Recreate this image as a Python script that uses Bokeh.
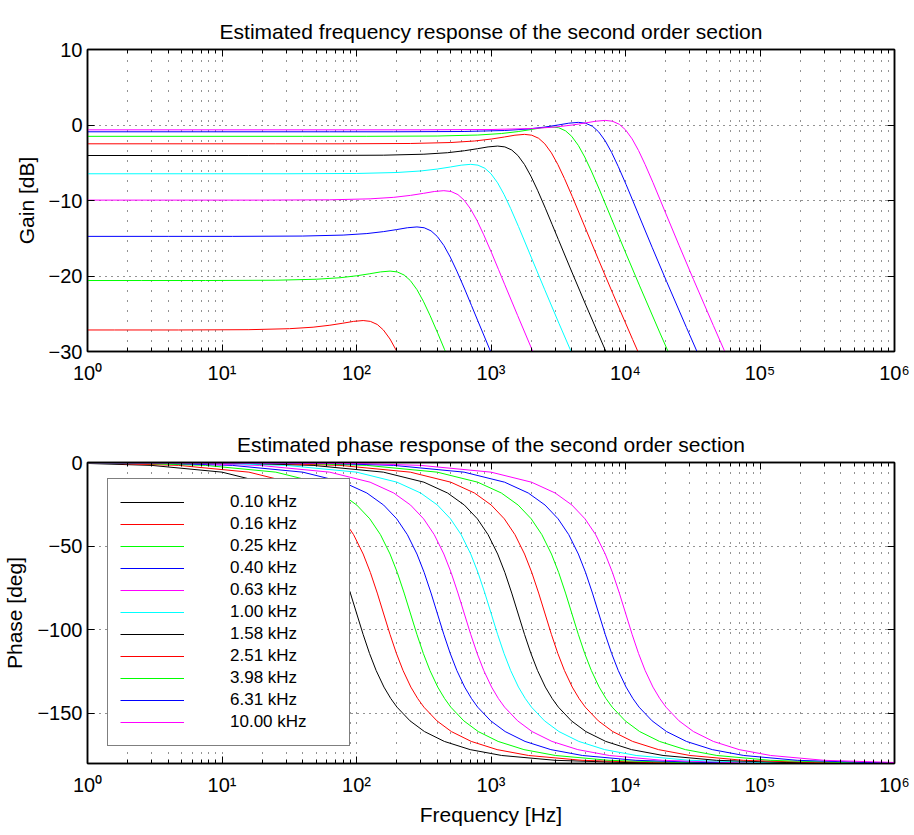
from bokeh.plotting import figure
from bokeh.models import Range1d, FixedTicker, LinearAxis, LogAxis, Legend, LegendItem
from bokeh.layouts import column
from bokeh.embed import file_html
from bokeh.resources import INLINE

# ---------------- data ----------------
labels = ["0.10 kHz", "0.16 kHz", "0.25 kHz", "0.40 kHz", "0.63 kHz", "1.00 kHz",
          "1.58 kHz", "2.51 kHz", "3.98 kHz", "6.31 kHz", "10.00 kHz"]
colors = ["#000000", "#ff0000", "#00ff00", "#0000ff", "#ff00ff", "#00ffff",
          "#000000", "#ff0000", "#00ff00", "#0000ff", "#ff00ff"]

freq_010 = [1, 3, 10, 20, 30, 40, 50, 60, 70.7, 80, 90, 100, 112, 125, 140, 160, 180, 200, 250, 320, 450, 700, 1200, 3000, 10000, 1000000]
gain_010 = [-34.3, -34.3, -34.26, -34.13, -33.93, -33.67, -33.4, -33.16, -33.05, -33.16, -33.57, -34.3, -35.5, -37.04, -38.9, -41.28, -43.47, -45.44, -49.59, -54.11, -60.22, -68.02]
phase_010 = [-0.57, -1.72, -5.77, -11.77, -18.24, -25.46, -33.69, -43.15, -54.74, -65.77, -78.08, -90.0, -102.8, -114.2, -124.4, -134.3, -141.2, -146.3, -154.5, -160.9, -166.8, -171.7, -175.2, -178.1, -179.4, -179.99]

freq_016 = [1, 1.585, 4.755, 15.85, 31.7, 47.55, 63.4, 79.25, 95.1, 112.1, 126.8, 142.7, 158.5, 177.5, 198.1, 221.9, 253.6, 285.3, 317, 396.3, 507.2, 713.3, 1110, 1902, 4755, 15850, 1000000]
gain_016 = [-27.15, -27.15, -27.15, -27.11, -26.98, -26.78, -26.52, -26.25, -26.01, -25.9, -26.01, -26.42, -27.15, -28.35, -29.89, -31.75, -34.13, -36.32, -38.29, -42.44, -46.96, -53.07, -60.87]
phase_016 = [-0.36, -0.57, -1.72, -5.77, -11.77, -18.24, -25.46, -33.69, -43.15, -54.74, -65.77, -78.08, -90.0, -102.8, -114.2, -124.4, -134.3, -141.2, -146.3, -154.5, -160.9, -166.8, -171.7, -175.2, -178.1, -179.4, -179.99]

freq_025 = [1, 2.512, 7.536, 25.12, 50.24, 75.36, 100.5, 125.6, 150.7, 177.6, 201, 226.1, 251.2, 281.3, 314, 351.7, 401.9, 452.2, 502.4, 628, 803.8, 1130, 1758, 3014, 7536, 25120, 1000000]
gain_025 = [-20.6, -20.6, -20.6, -20.56, -20.43, -20.23, -19.97, -19.7, -19.46, -19.35, -19.46, -19.87, -20.6, -21.8, -23.34, -25.2, -27.58, -29.77, -31.74, -35.89, -40.41, -46.52, -54.32]
phase_025 = [-0.23, -0.57, -1.72, -5.77, -11.77, -18.24, -25.46, -33.69, -43.15, -54.74, -65.77, -78.08, -90.0, -102.8, -114.2, -124.4, -134.3, -141.2, -146.3, -154.5, -160.9, -166.8, -171.7, -175.2, -178.1, -179.4, -179.99]

freq_040 = [1, 3.981, 11.94, 39.81, 79.62, 119.4, 159.2, 199.1, 238.9, 281.5, 318.5, 358.3, 398.1, 445.9, 497.6, 557.3, 637, 716.6, 796.2, 995.3, 1274, 1791, 2787, 4777, 11940, 39810, 1000000]
gain_040 = [-14.75, -14.75, -14.75, -14.71, -14.58, -14.38, -14.12, -13.85, -13.61, -13.5, -13.61, -14.02, -14.75, -15.95, -17.49, -19.35, -21.73, -23.92, -25.89, -30.04, -34.56, -40.67, -48.47]
phase_040 = [-0.14, -0.57, -1.72, -5.77, -11.77, -18.24, -25.46, -33.69, -43.15, -54.74, -65.77, -78.08, -90.0, -102.8, -114.2, -124.4, -134.3, -141.2, -146.3, -154.5, -160.9, -166.8, -171.7, -175.2, -178.1, -179.4, -179.98]

freq_063 = [1, 6.31, 18.93, 63.1, 126.2, 189.3, 252.4, 315.5, 378.6, 446.1, 504.8, 567.9, 631, 706.7, 788.8, 883.4, 1010, 1136, 1262, 1578, 2019, 2840, 4417, 7572, 18930, 63100, 1000000]
gain_063 = [-9.95, -9.95, -9.95, -9.91, -9.78, -9.58, -9.32, -9.05, -8.81, -8.7, -8.81, -9.22, -9.95, -11.15, -12.69, -14.55, -16.93, -19.12, -21.09, -25.24, -29.76, -35.87, -43.67]
phase_063 = [-0.09, -0.57, -1.72, -5.77, -11.77, -18.24, -25.46, -33.69, -43.15, -54.74, -65.77, -78.08, -90.0, -102.8, -114.2, -124.4, -134.3, -141.2, -146.3, -154.5, -160.9, -166.8, -171.7, -175.2, -178.1, -179.4, -179.96]

freq_100 = [1, 10, 30, 100, 200, 300, 400, 500, 600, 707, 800, 900, 1000, 1120, 1250, 1400, 1600, 1800, 2000, 2500, 3200, 4500, 7000, 12000, 30000, 100000, 1000000]
gain_100 = [-6.46, -6.46, -6.46, -6.42, -6.29, -6.09, -5.83, -5.56, -5.32, -5.21, -5.32, -5.73, -6.46, -7.66, -9.2, -11.06, -13.44, -15.63, -17.6, -21.75, -26.27, -32.38, -40.18]
phase_100 = [-0.06, -0.57, -1.72, -5.77, -11.77, -18.24, -25.46, -33.69, -43.15, -54.74, -65.77, -78.08, -90.0, -102.8, -114.2, -124.4, -134.3, -141.2, -146.3, -154.5, -160.9, -166.8, -171.7, -175.2, -178.1, -179.4, -179.94]

freq_158 = [1, 15.85, 47.55, 158.5, 317, 475.5, 634, 792.5, 951, 1121, 1268, 1426, 1585, 1775, 1981, 2219, 2536, 2853, 3170, 3962, 5072, 7132, 11090, 19020, 47550, 158500, 1000000]
gain_158 = [-4.04, -4.04, -4.04, -4.0, -3.87, -3.67, -3.41, -3.14, -2.9, -2.79, -2.9, -3.31, -4.04, -5.24, -6.78, -8.64, -11.02, -13.21, -15.18, -19.33, -23.85, -29.96, -37.76]
phase_158 = [-0.04, -0.57, -1.72, -5.77, -11.77, -18.24, -25.46, -33.69, -43.15, -54.74, -65.77, -78.08, -90.0, -102.8, -114.2, -124.4, -134.3, -141.2, -146.3, -154.5, -160.9, -166.8, -171.7, -175.2, -178.1, -179.4, -179.91]

freq_251 = [1, 25.12, 75.36, 251.2, 502.4, 753.6, 1005, 1256, 1507, 1776, 2010, 2261, 2512, 2813, 3140, 3517, 4019, 4521, 5024, 6280, 8038, 11300, 17580, 30140, 75360, 251200, 1000000]
gain_251 = [-2.49, -2.49, -2.49, -2.45, -2.32, -2.12, -1.86, -1.59, -1.35, -1.24, -1.35, -1.76, -2.49, -3.69, -5.23, -7.09, -9.47, -11.66, -13.63, -17.78, -22.3, -28.41, -36.21]
phase_251 = [-0.02, -0.57, -1.72, -5.77, -11.77, -18.24, -25.46, -33.69, -43.15, -54.74, -65.77, -78.08, -90.0, -102.8, -114.2, -124.4, -134.3, -141.2, -146.3, -154.5, -160.9, -166.8, -171.7, -175.2, -178.1, -179.4, -179.86]

freq_398 = [1, 39.81, 119.4, 398.1, 796.2, 1194, 1592, 1991, 2389, 2815, 3185, 3583, 3981, 4459, 4976, 5573, 6370, 7166, 7962, 9953, 12740, 17910, 27870, 47770, 119400, 398100, 1000000]
gain_398 = [-1.5, -1.5, -1.5, -1.46, -1.33, -1.13, -0.87, -0.6, -0.36, -0.25, -0.36, -0.77, -1.5, -2.7, -4.24, -6.1, -8.48, -10.67, -12.64, -16.79, -21.31, -27.42, -35.22]
phase_398 = [-0.01, -0.57, -1.72, -5.77, -11.77, -18.24, -25.46, -33.69, -43.15, -54.74, -65.77, -78.08, -90.0, -102.8, -114.2, -124.4, -134.3, -141.2, -146.3, -154.5, -160.9, -166.8, -171.7, -175.2, -178.1, -179.4, -179.77]

freq_631 = [1, 63.1, 189.3, 631, 1262, 1893, 2524, 3155, 3786, 4461, 5048, 5679, 6310, 7067, 7887, 8834, 10100, 11360, 12620, 15770, 20190, 28390, 44170, 75720, 189300, 631000, 1000000]
gain_631 = [-0.9, -0.9, -0.9, -0.86, -0.73, -0.53, -0.27, 0.0, 0.24, 0.35, 0.24, -0.17, -0.9, -2.1, -3.64, -5.5, -7.88, -10.07, -12.04, -16.19, -20.71, -26.82, -34.62]
phase_631 = [-0.01, -0.57, -1.72, -5.77, -11.77, -18.24, -25.46, -33.69, -43.15, -54.74, -65.77, -78.08, -90.0, -102.8, -114.2, -124.4, -134.3, -141.2, -146.3, -154.5, -160.9, -166.8, -171.7, -175.2, -178.1, -179.4, -179.64]

freq_1000 = [1, 100, 300, 1000, 2000, 3000, 4000, 5000, 6000, 7070, 8000, 9000, 10000, 11200, 12500, 14000, 16000, 18000, 20000, 25000, 32000, 45000, 70000, 120000, 300000, 1000000]
gain_1000 = [-0.64, -0.64, -0.64, -0.6, -0.47, -0.27, -0.01, 0.26, 0.5, 0.61, 0.5, 0.09, -0.64, -1.84, -3.38, -5.24, -7.62, -9.81, -11.78, -15.93, -20.45, -26.56, -34.36]
phase_1000 = [-0.01, -0.57, -1.72, -5.77, -11.77, -18.24, -25.46, -33.69, -43.15, -54.74, -65.77, -78.08, -90.0, -102.8, -114.2, -124.4, -134.3, -141.2, -146.3, -154.5, -160.9, -166.8, -171.7, -175.2, -178.1, -179.4]

freqs = [freq_010, freq_016, freq_025, freq_040, freq_063, freq_100, freq_158, freq_251, freq_398, freq_631, freq_1000]
gains = [gain_010, gain_016, gain_025, gain_040, gain_063, gain_100, gain_158, gain_251, gain_398, gain_631, gain_1000]
phases = [phase_010, phase_016, phase_025, phase_040, phase_063, phase_100, phase_158, phase_251, phase_398, phase_631, phase_1000]

x_ticks = [1, 10, 100, 1000, 10000, 100000, 1000000]
x_tick_labels = ["10\u2070", "10\u00b9", "10\u00b2", "10\u00b3", "10\u2074", "10\u2075", "10\u2076"]
gain_ticks = [-30, -20, -10, 0, 10]
gain_tick_labels = ["\u221230", "\u221220", "\u221210", "0", "10"]
phase_ticks = [-150, -100, -50, 0]
phase_tick_labels = ["\u2212150", "\u2212100", "\u221250", "0"]

FONT = "Liberation Sans"
x_minor = [m * 10 ** k for k in range(6) for m in range(2, 10)]


def style_axis(ax, ticker, overrides, show_labels=True, minor=False, standoff=6):
    ax.ticker = ticker
    ax.axis_line_color = "black"
    ax.axis_line_width = 1.5
    ax.major_tick_in = 7
    ax.major_tick_out = 0
    ax.major_tick_line_color = "black"
    if minor:
        ax.minor_tick_in = 4
        ax.minor_tick_out = 0
        ax.minor_tick_line_color = "black"
    else:
        ax.minor_tick_line_color = None
    if show_labels:
        ax.major_label_overrides = overrides
        ax.major_label_text_font = FONT
        ax.major_label_text_font_size = "20px"
        ax.major_label_text_color = "black"
        ax.major_label_standoff = standoff
    else:
        ax.major_label_text_font_size = "1px"
        ax.major_label_text_alpha = 0
        ax.major_label_standoff = 0


def make_fig(height, top, bottom, yr, yticks, ylabels, title, ylabel, xlabel):
    p = figure(width=910, height=height, x_axis_type="log",
               x_range=Range1d(1, 1e6), y_range=Range1d(*yr),
               output_backend="svg", toolbar_location=None,
               min_border_left=87, min_border_right=16,
               min_border_top=top, min_border_bottom=bottom,
               title=title)
    p.title.text_font = FONT
    p.title.text_font_size = "21px"
    p.title.text_font_style = "normal"
    p.title.text_color = "black"
    p.title.align = "center"
    p.title.standoff = 14
    p.outline_line_color = "black"
    p.outline_line_width = 1.5
    p.background_fill_color = "white"
    p.border_fill_color = "white"

    xt = FixedTicker(ticks=x_ticks, minor_ticks=x_minor)
    yt = FixedTicker(ticks=yticks, minor_ticks=[])
    xo = dict(zip(x_ticks, x_tick_labels))
    yo = dict(zip(yticks, ylabels))

    style_axis(p.xaxis[0], xt, xo, True, True, standoff=10)
    style_axis(p.yaxis[0], yt, yo, True, False, standoff=5)
    p.yaxis[0].axis_label = ylabel
    p.yaxis[0].axis_label_text_font = FONT
    p.yaxis[0].axis_label_text_font_size = "21px"
    p.yaxis[0].axis_label_text_font_style = "normal"
    p.yaxis[0].axis_label_text_color = "black"
    p.yaxis[0].axis_label_standoff = 8
    if xlabel:
        p.xaxis[0].axis_label = xlabel
        p.xaxis[0].axis_label_text_font = FONT
        p.xaxis[0].axis_label_text_font_size = "21px"
        p.xaxis[0].axis_label_text_font_style = "normal"
        p.xaxis[0].axis_label_text_color = "black"
        p.xaxis[0].axis_label_standoff = 4

    top_ax = LogAxis()
    style_axis(top_ax, FixedTicker(ticks=x_ticks, minor_ticks=x_minor), {}, False, True)
    p.add_layout(top_ax, "above")
    right_ax = LinearAxis()
    style_axis(right_ax, FixedTicker(ticks=yticks, minor_ticks=[]), {}, False, False)
    p.add_layout(right_ax, "right")

    p.xgrid.grid_line_color = "black"
    p.xgrid.grid_line_alpha = 0.85
    p.xgrid.grid_line_dash = "1 9"
    p.xgrid.minor_grid_line_color = "black"
    p.xgrid.minor_grid_line_alpha = 0.85
    p.xgrid.minor_grid_line_dash = "1 9"
    p.ygrid.grid_line_color = "black"
    p.ygrid.grid_line_alpha = 0.85
    p.ygrid.grid_line_dash = "1 5"
    return p


p1 = make_fig(408, 49, 57, (-30, 10), gain_ticks, gain_tick_labels,
              "Estimated frequency response of the second order section",
              "Gain [dB]", None)
p2 = make_fig(425, 54, 70, (-180, 0), phase_ticks, phase_tick_labels,
              "Estimated phase response of the second order section",
              "Phase [deg]", "Frequency [Hz]")

items = []
for f, g, ph, c, lab in zip(freqs, gains, phases, colors, labels):
    p1.line(f[:len(g)], g, line_color=c, line_width=1)
    r = p2.line(f, ph, line_color=c, line_width=1)
    items.append(LegendItem(label=lab, renderers=[r]))

legend = Legend(items=items, location=(20, 17), padding=12, spacing=0,
                label_height=22, glyph_height=22, glyph_width=64,
                label_standoff=46, label_width=107, margin=0,
                label_text_font=FONT, label_text_font_size="17px",
                label_text_color="black",
                border_line_color="black", border_line_width=1.5,
                background_fill_color="white", background_fill_alpha=1.0)
p2.add_layout(legend)

layout = column(p1, p2, spacing=0)
open("out.html", "w").write(file_html(layout, INLINE))
